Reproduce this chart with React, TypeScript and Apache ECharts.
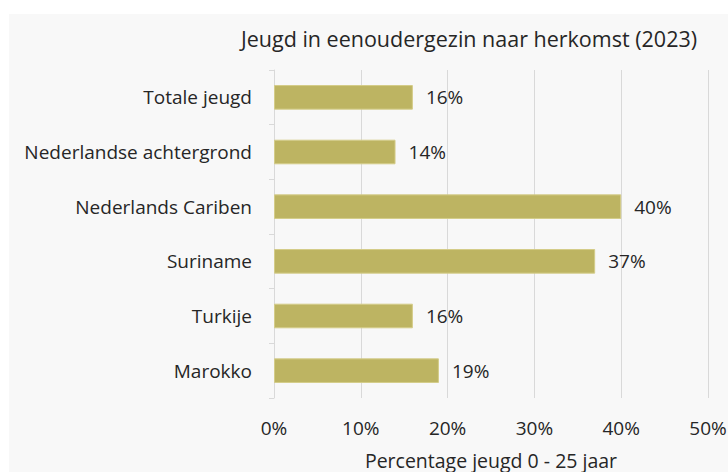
import React, { useEffect, useRef } from "react";
import * as echarts from "echarts";

const categories = [
  "Totale jeugd",
  "Nederlandse achtergrond",
  "Nederlands Cariben",
  "Suriname",
  "Turkije",
  "Marokko",
];
const values = [16, 14, 40, 37, 16, 19];
const xTicks = [0, 10, 20, 30, 40, 50];

const FONT = "'Open Sans', 'Noto Sans', sans-serif";

export default function App() {
  const ref = useRef<HTMLDivElement>(null);
  useEffect(() => {
    if (!ref.current) return;
    const chart = echarts.init(ref.current, undefined, { renderer: "svg" });
    chart.setOption({
      animation: false,
      backgroundColor: "#ffffff",
      graphic: [
        {
          type: "rect",
          z: -10,
          shape: { x: 9, y: 14, width: 728, height: 472 },
          style: { fill: "#f8f8f8" },
          silent: true,
        },
      ],
      title: {
        text: "Jeugd in eenoudergezin naar herkomst (2023)",
        left: 464,
        top: 22,
        textAlign: "center",
        textStyle: {
          fontFamily: FONT,
          fontSize: 21.5,
          fontWeight: "normal",
          color: "#262626",
        },
      },
      grid: {
        left: 274,
        right: 20,
        top: 70,
        bottom: 74,
        containLabel: false,
        outerBoundsMode: "none",
      },
      xAxis: {
        type: "value",
        min: xTicks[0],
        max: xTicks[xTicks.length - 1],
        interval: 10,
        name: "Percentage jeugd 0 - 25 jaar",
        nameLocation: "middle",
        nameGap: 52,
        nameTextStyle: { fontFamily: FONT, fontSize: 19.5, color: "#262626" },
        axisLine: { show: false },
        axisTick: { show: false },
        axisLabel: {
          fontFamily: FONT,
          fontSize: 19,
          color: "#262626",
          margin: 20,
          formatter: (v: number) => `${v}%`,
        },
        splitLine: { show: true, lineStyle: { color: "#d9d9d9", width: 1 } },
      },
      yAxis: {
        type: "category",
        data: categories,
        inverse: true,
        axisLine: { show: true, lineStyle: { color: "#d9d9d9", width: 1 } },
        axisTick: { show: true, length: 5, lineStyle: { color: "#d9d9d9" } },
        axisLabel: {
          fontFamily: FONT,
          fontSize: 19,
          color: "#262626",
          margin: 22,
        },
        splitLine: { show: false },
      },
      series: [
        {
          type: "bar",
          data: values,
          barWidth: "45%",
          itemStyle: {
            color: "#bdb462",
            borderColor: "#d4cc88",
            borderWidth: 1,
          },
          label: {
            show: true,
            position: "right",
            distance: 13,
            fontFamily: FONT,
            fontSize: 19,
            color: "#262626",
            formatter: (p: any) => `${p.value}%`,
          },
        },
      ],
    });
    return () => chart.dispose();
  }, []);
  return (
    <div
      ref={ref}
      style={{ position: "fixed", left: 0, top: 0, width: 728, height: 472 }}
    />
  );
}
